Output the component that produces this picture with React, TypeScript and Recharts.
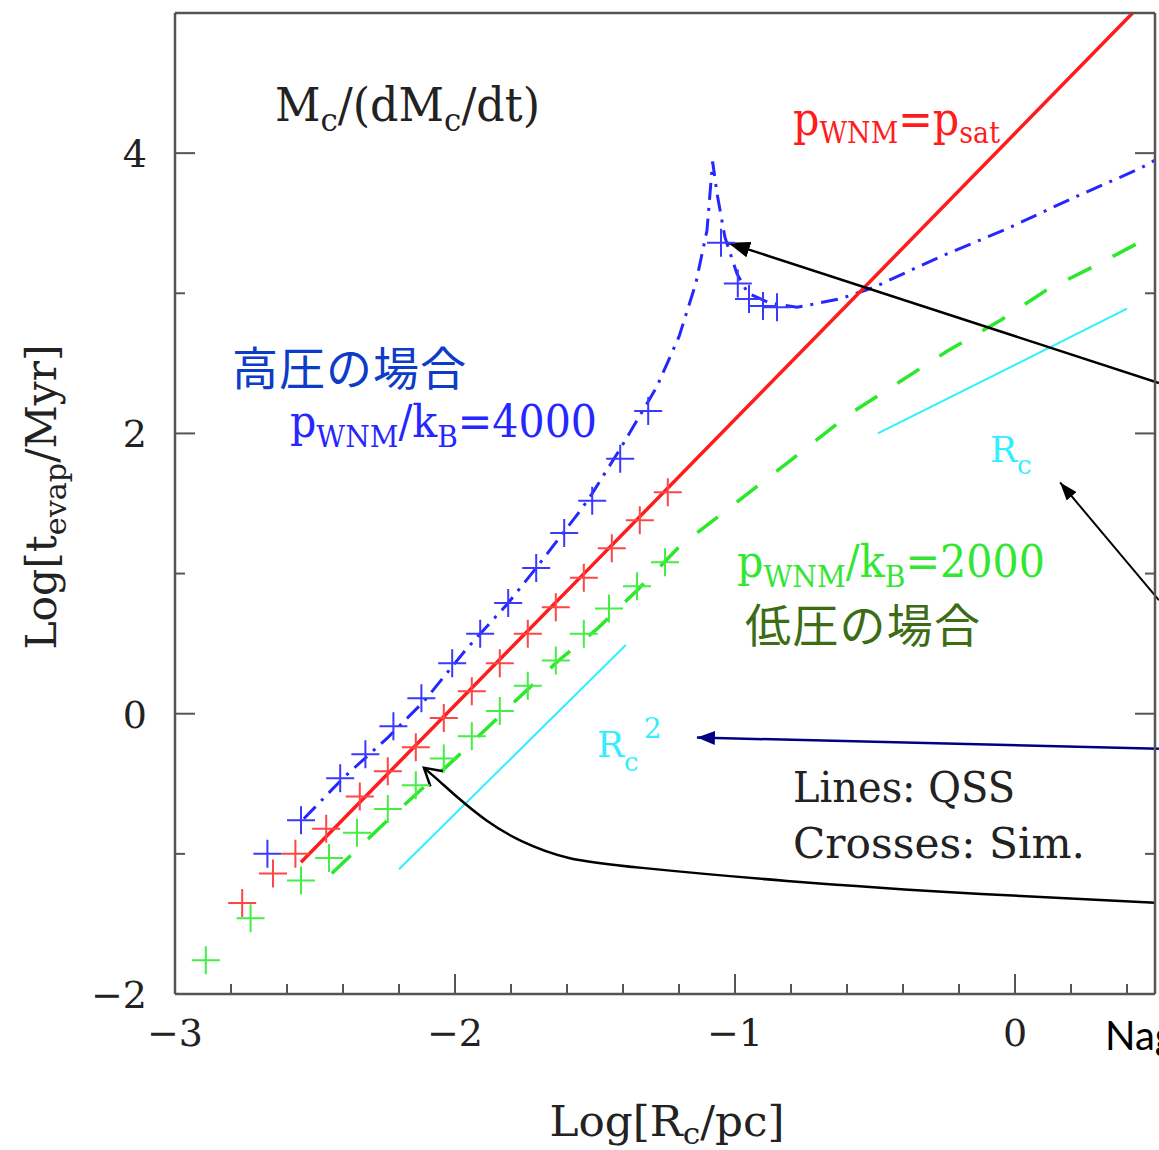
import React from "react";
import { ComposedChart, XAxis, YAxis, Line, Scatter, ReferenceLine } from "recharts";

const W = 1159;
const H = 1150;

// log R_c [pc] vs log t_evap [Myr]
const SAT_X = [-2.55, -1.5, -0.5, 0.42];
const SAT_Y = [-1.06, 1.08, 3.12, 5.0];

const HIGH_X = [-2.54, -2.4, -2.24, -2.11, -1.96, -1.81, -1.71, -1.56, -1.52, -1.41, -1.28, -1.2, -1.14, -1.1, -1.08, -1.064, -1.036, -0.993, -0.954, -0.875, -0.779, -0.625, -0.507, -0.268, -0.029, 0.207, 0.446, 0.5];
const HIGH_Y = [-0.75, -0.46, -0.17, 0.09, 0.46, 0.79, 1.04, 1.43, 1.54, 1.89, 2.33, 2.69, 3.07, 3.45, 3.94, 3.71, 3.4, 3.14, 3.0, 2.93, 2.9, 2.96, 3.04, 3.26, 3.46, 3.68, 3.89, 3.95];

const LOW_X = [-2.44, -2.23, -2.01, -1.79, -1.63, -1.49, -1.35, -1.2, -0.8, -0.59, -0.24, -0.05, 0.11, 0.29, 0.47];
const LOW_Y = [-1.14, -0.74, -0.34, 0.08, 0.38, 0.61, 0.88, 1.19, 1.81, 2.14, 2.59, 2.81, 3.02, 3.2, 3.39];

const RC2_X = [-2.2, -1.39];
const RC2_Y = [-1.11, 0.49];
const RC1_X = [-0.49, 0.4];
const RC1_Y = [2.0, 2.89];

// simulation results
const SIM_SAT_X = [-2.76, -2.65, -2.57, -2.46, -2.34, -2.24, -2.14, -2.04, -1.94, -1.84, -1.74, -1.64, -1.54, -1.44, -1.34, -1.24];
const SIM_SAT_Y = [-1.35, -1.14, -1.0, -0.82, -0.59, -0.41, -0.24, -0.03, 0.16, 0.36, 0.57, 0.76, 0.97, 1.18, 1.38, 1.58];
const SIM_LOW_X = [-2.89, -2.73, -2.55, -2.45, -2.35, -2.24, -2.14, -2.04, -1.94, -1.84, -1.74, -1.64, -1.54, -1.45, -1.35, -1.25];
const SIM_LOW_Y = [-1.76, -1.46, -1.19, -1.03, -0.85, -0.68, -0.51, -0.32, -0.16, 0.02, 0.2, 0.38, 0.57, 0.75, 0.91, 1.08];
const SIM_HIGH_X = [-2.67, -2.55, -2.41, -2.32, -2.22, -2.12, -2.01, -1.91, -1.81, -1.71, -1.61, -1.51, -1.41, -1.31, -1.05, -0.99, -0.95, -0.9, -0.85];
const SIM_HIGH_Y = [-1.0, -0.76, -0.46, -0.29, -0.09, 0.11, 0.36, 0.57, 0.79, 1.04, 1.29, 1.52, 1.82, 2.16, 3.36, 3.07, 2.96, 2.91, 2.9];

// curved pointer towards the crosses
const CURVE_X = [0.514, -0.121, -0.814, -1.332, -1.593, -1.764, -1.886, -1.989, -2.057, -2.111];
const CURVE_Y = [-1.35, -1.286, -1.193, -1.1, -1.029, -0.907, -0.764, -0.6, -0.479, -0.386];

const X_TICKS = [-3, -2.8, -2.6, -2.4, -2.2, -2, -1.8, -1.6, -1.4, -1.2, -1, -0.8, -0.6, -0.4, -0.2, 0, 0.2, 0.4];
const Y_TICKS = [-2, -1, 0, 1, 2, 3, 4, 5];

const zip = (xs: number[], ys: number[]) => xs.map((x, i) => ({ x, y: ys[i] }));

const SERIF = "'DejaVu Serif', serif";
const AXIS = "#555";
const RED = "#ff1c1c";
const BLUE = "#2626ff";
const GREEN = "#2ae82a";
const CYAN = "#33eeff";

const isInt = (v: number) => Math.abs(v - Math.round(v)) < 1e-6;
const fmt = (v: number) => (v < 0 ? `\u2212${Math.abs(Math.round(v))}` : `${Math.round(v)}`);

function BottomTick({ x, y, payload }: any) {
  const v = payload.value;
  const major = isInt(v);
  return (
    <g>
      <line x1={x} y1={y} x2={x} y2={y - (major ? 20 : 10)} stroke={AXIS} strokeWidth={2} />
      {major && (
        <text x={x} y={y + 52} textAnchor="middle" fontFamily={SERIF} fontSize={38} fill="#222">
          {fmt(v)}
        </text>
      )}
    </g>
  );
}

function TopTick({ x, y, payload }: any) {
  const major = isInt(payload.value);
  return <line x1={x} y1={y} x2={x} y2={y + (major ? 20 : 10)} stroke={AXIS} strokeWidth={2} />;
}

function LeftTick({ x, y, payload }: any) {
  const v = payload.value;
  const major = Math.round(v) % 2 === 0;
  return (
    <g>
      <line x1={x} y1={y} x2={x + (major ? 20 : 10)} y2={y} stroke={AXIS} strokeWidth={2} />
      {major && v < 5 && (
        <text x={x - 28} y={y + 14} textAnchor="end" fontFamily={SERIF} fontSize={38} fill="#222">
          {fmt(v)}
        </text>
      )}
    </g>
  );
}

function RightTick({ x, y, payload }: any) {
  const major = Math.round(payload.value) % 2 === 0;
  return <line x1={x} y1={y} x2={x - (major ? 20 : 10)} y2={y} stroke={AXIS} strokeWidth={2} />;
}

const cross = (color: string) => (p: any) => (
  <path
    d={`M${p.cx - 14},${p.cy}h28M${p.cx},${p.cy - 14}v28`}
    stroke={color}
    strokeWidth={2}
    fill="none"
  />
);

export default function App() {
  return (
    <div style={{ position: "absolute", left: 0, top: 0, width: W, height: H, background: "#fff" }}>
      <ComposedChart width={W} height={H} margin={{ top: 0, right: 0, bottom: 0, left: 0 }}>
        <defs>
          <marker id="headBlack" markerUnits="userSpaceOnUse" markerWidth={22} markerHeight={16} viewBox="0 0 22 16" refX={22} refY={8} orient="auto">
            <path d="M0,0L22,8L0,16Z" fill="#000" />
          </marker>
          <marker id="headSmall" markerUnits="userSpaceOnUse" markerWidth={18} markerHeight={13} viewBox="0 0 18 13" refX={18} refY={6.5} orient="auto">
            <path d="M0,0L18,6.5L0,13Z" fill="#000" />
          </marker>
          <marker id="headNavy" markerUnits="userSpaceOnUse" markerWidth={18} markerHeight={14} viewBox="0 0 18 14" refX={18} refY={7} orient="auto">
            <path d="M0,0L18,7L0,14Z" fill="#000080" />
          </marker>
          <marker id="headOpen" markerUnits="userSpaceOnUse" markerWidth={24} markerHeight={24} viewBox="0 0 24 24" refX={20} refY={12} orient="auto">
            <path d="M3,2L20,12L3,22" fill="none" stroke="#000" strokeWidth={2.5} />
          </marker>
        </defs>

        <XAxis
          dataKey="x"
          type="number"
          domain={[-3, 0.5]}
          allowDataOverflow
          ticks={X_TICKS}
          interval={0}
          height={156}
          tickSize={0}
          tickMargin={0}
          tickLine={false}
          tick={<BottomTick />}
          axisLine={{ stroke: AXIS, strokeWidth: 2.5 }}
        />
        <XAxis
          xAxisId="top"
          orientation="top"
          type="number"
          domain={[-3, 0.5]}
          allowDataOverflow
          ticks={X_TICKS}
          interval={0}
          height={13}
          tickSize={0}
          tickMargin={0}
          tickLine={false}
          tick={<TopTick />}
          axisLine={{ stroke: AXIS, strokeWidth: 2.5 }}
        />
        <YAxis
          dataKey="y"
          type="number"
          domain={[-2, 5]}
          allowDataOverflow
          ticks={Y_TICKS}
          interval={0}
          width={175}
          tickSize={0}
          tickMargin={0}
          tickLine={false}
          tick={<LeftTick />}
          axisLine={{ stroke: AXIS, strokeWidth: 2.5 }}
        />
        <YAxis
          yAxisId="right"
          orientation="right"
          type="number"
          domain={[-2, 5]}
          allowDataOverflow
          ticks={Y_TICKS}
          interval={0}
          width={4}
          tickSize={0}
          tickMargin={0}
          tickLine={false}
          tick={<RightTick />}
          axisLine={{ stroke: AXIS, strokeWidth: 2.5 }}
        />

        <Line data={zip(RC2_X, RC2_Y)} dataKey="y" stroke={CYAN} strokeWidth={2} dot={false} activeDot={false} isAnimationActive={false} />
        <Line data={zip(RC1_X, RC1_Y)} dataKey="y" stroke={CYAN} strokeWidth={2} dot={false} activeDot={false} isAnimationActive={false} />
        <Line data={zip(LOW_X, LOW_Y)} dataKey="y" stroke={GREEN} strokeWidth={3.5} strokeDasharray="26 24" dot={false} activeDot={false} isAnimationActive={false} />
        <Line data={zip(HIGH_X, HIGH_Y)} dataKey="y" stroke={BLUE} strokeWidth={3} strokeDasharray="17 8 3 8" dot={false} activeDot={false} isAnimationActive={false} />
        <Line data={zip(SAT_X, SAT_Y)} dataKey="y" stroke={RED} strokeWidth={3.5} dot={false} activeDot={false} isAnimationActive={false} />

        <Scatter data={zip(SIM_LOW_X, SIM_LOW_Y)} dataKey="y" shape={cross("#44ee44")} isAnimationActive={false} />
        <Scatter data={zip(SIM_SAT_X, SIM_SAT_Y)} dataKey="y" shape={cross("#ff4646")} isAnimationActive={false} />
        <Scatter data={zip(SIM_HIGH_X, SIM_HIGH_Y)} dataKey="y" shape={cross("#3a3aff")} isAnimationActive={false} />

        <ReferenceLine segment={[{ x: 0.514, y: 2.36 }, { x: -1.025, y: 3.36 }]} ifOverflow="visible" stroke="#000" strokeWidth={2.5} markerEnd="url(#headBlack)" />
        <ReferenceLine segment={[{ x: 0.514, y: 0.81 }, { x: 0.161, y: 1.65 }]} ifOverflow="visible" stroke="#000" strokeWidth={2} markerEnd="url(#headSmall)" />
        <ReferenceLine segment={[{ x: 0.514, y: -0.25 }, { x: -1.136, y: -0.17 }]} ifOverflow="visible" stroke="#000080" strokeWidth={2.5} markerEnd="url(#headNavy)" />
        <Line data={zip(CURVE_X, CURVE_Y)} dataKey="y" type="natural" stroke="#000" strokeWidth={2.5} dot={false} activeDot={false} markerEnd="url(#headOpen)" isAnimationActive={false} />

        {/* annotations */}
        <text x={275} y={121} fontFamily={SERIF} fontSize={46} fill="#222" textLength={265} lengthAdjust="spacingAndGlyphs">
          M<tspan fontSize={32} dy={10}>c</tspan>
          <tspan dy={-10}>/(dM</tspan>
          <tspan fontSize={32} dy={10}>c</tspan>
          <tspan dy={-10}>/dt)</tspan>
        </text>
        <text x={793} y={135} fontFamily={SERIF} fontSize={46} fill={RED} textLength={207} lengthAdjust="spacingAndGlyphs">
          p<tspan fontSize={30} dy={8}>WNM</tspan>
          <tspan dy={-8}>=p</tspan>
          <tspan fontSize={30} dy={8}>sat</tspan>
        </text>
        <text x={232} y={385} fontFamily="'Noto Sans CJK JP', sans-serif" fontSize={46} fill="#0d3cc8" textLength={234}>
          高圧の場合
        </text>
        <text x={290} y={437} fontFamily={SERIF} fontSize={44} fill={BLUE} textLength={307} lengthAdjust="spacingAndGlyphs">
          p<tspan fontSize={30} dy={10}>WNM</tspan>
          <tspan dy={-10}>/k</tspan>
          <tspan fontSize={30} dy={10}>B</tspan>
          <tspan dy={-10}>=4000</tspan>
        </text>
        <text x={737} y={577} fontFamily={SERIF} fontSize={44} fill="#33e633" textLength={308} lengthAdjust="spacingAndGlyphs">
          p<tspan fontSize={30} dy={10}>WNM</tspan>
          <tspan dy={-10}>/k</tspan>
          <tspan fontSize={30} dy={10}>B</tspan>
          <tspan dy={-10}>=2000</tspan>
        </text>
        <text x={745} y={642} fontFamily="'Noto Sans CJK JP', sans-serif" fontSize={46} fill="#3c6c14" textLength={235}>
          低圧の場合
        </text>
        <text x={990} y={462} fontFamily={SERIF} fontSize={36} fill={CYAN}>
          R<tspan fontSize={26} dy={12}>c</tspan>
        </text>
        <text x={597} y={757} fontFamily={SERIF} fontSize={36} fill={CYAN}>
          R<tspan fontSize={26} dy={14}>c</tspan>
          <tspan fontSize={28} dx={5} dy={-33}>2</tspan>
        </text>
        <text x={793} y={802} fontFamily={SERIF} fontSize={42} fill="#222" textLength={222} lengthAdjust="spacingAndGlyphs">
          Lines: QSS
        </text>
        <text x={793} y={858} fontFamily={SERIF} fontSize={42} fill="#222" textLength={292} lengthAdjust="spacingAndGlyphs">
          Crosses: Sim.
        </text>
        <text x={1105} y={1050} fontFamily="Lato, sans-serif" fontSize={40} fill="#000">
          Nag
        </text>

        {/* axis titles */}
        <text x={667} y={1136} textAnchor="middle" fontFamily={SERIF} fontSize={42} fill="#222" textLength={235} lengthAdjust="spacingAndGlyphs">
          Log[R<tspan fontSize={30} dy={8}>c</tspan>
          <tspan dy={-8}>/pc]</tspan>
        </text>
        <text transform="translate(56,497) rotate(-90)" textAnchor="middle" fontFamily={SERIF} fontSize={42} fill="#222" textLength={305} lengthAdjust="spacingAndGlyphs">
          Log[t<tspan fontSize={30} dy={10}>evap</tspan>
          <tspan dy={-10}>/Myr]</tspan>
        </text>
      </ComposedChart>
    </div>
  );
}
